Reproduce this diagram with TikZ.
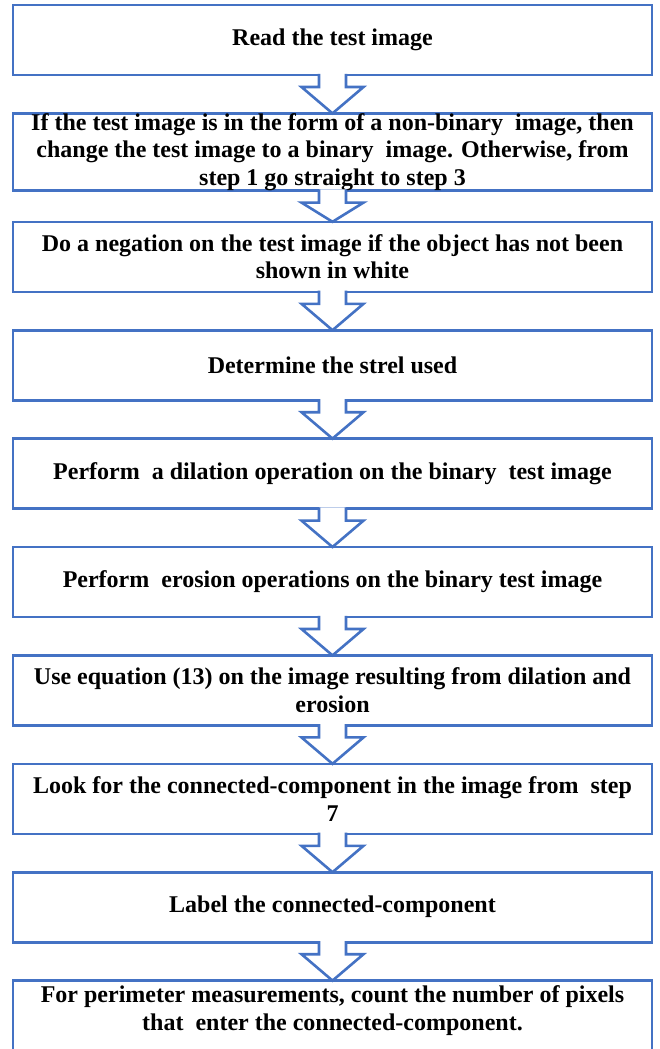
\documentclass[tikz,border=0pt]{standalone}
\usepackage{fontspec}
\setmainfont{Liberation Serif}
\usetikzlibrary{calc}
\definecolor{boxblue}{HTML}{4472C4}
\begin{document}
\begin{tikzpicture}[x=1pt,y=-1pt,
  boxtext/.style={font=\fontsize{24}{27.5}\selectfont\bfseries, align=center, text=black},
  box/.style={boxtext, draw=boxblue, line width=2.6pt, fill=white,
    minimum width=639pt, minimum height=70pt, inner sep=0pt, outer sep=0pt, anchor=north},
  arr/.style={draw=boxblue, line width=2.6pt, fill=white, line join=miter}]
\useasboundingbox (0,0) rectangle (659,1049);
\fill[white] (0,0) rectangle (659,1049);

\node[box] (b1) at (332.5,5) {Read the test image};
\node[box] (b2) at (332.5,113.4) {If the test image is in the form of a non-binary\ \ image, then\\ change the test image to a binary\ \ image. Otherwise, from\\ step 1 go straight to step 3};
\node[box] (b3) at (332.5,221.8) {Do a negation on the test image if the object has not been\\ shown in white};
\node[box] (b4) at (332.5,330.2) {Determine the strel used};
\node[box] (b5) at (332.5,438.6) {Perform\ \ a dilation operation on the binary\ \ test image};
\node[box] (b6) at (332.5,547) {Perform\ \ erosion operations on the binary test image};
\node[box] (b7) at (332.5,655.4) {Use equation (13) on the image resulting from dilation and\\ erosion};
\node[box] (b8) at (332.5,763.8) {Look for the connected-component in the image from\ \ step\\ 7};
\node[box] (b9) at (332.5,872.2) {Label the connected-component};
\node[box, label={[boxtext,yshift=5pt]center:{For perimeter measurements, count the number of pixels\\ that\ \ enter the connected-component.}}] (b10) at (332.5,980.6) {};

\foreach \a/\b in {b1/b2,b2/b3,b3/b4,b4/b5,b5/b6,b6/b7,b7/b8,b8/b9,b9/b10}{
  \filldraw[arr] ($(\a.south)+(-13.5,-1.2)$) -- ++(0,13.2) -- ++(-17.5,0)
    -- (\b.north) -- ($(\a.south)+(31,12)$) -- ++(-17.5,0) -- ++(0,-13.2);
}
\end{tikzpicture}
\end{document}
